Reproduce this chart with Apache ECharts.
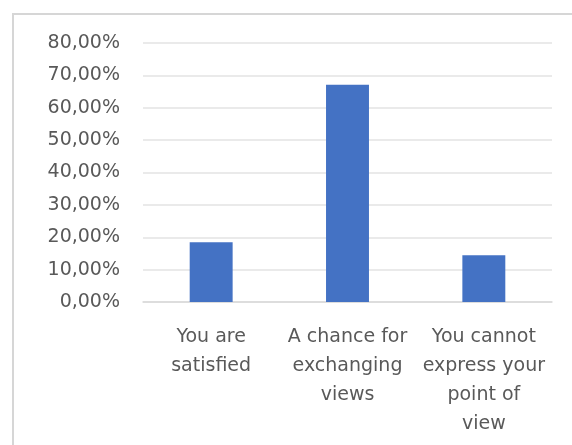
<!DOCTYPE html>
<html>
<head>
<meta charset="utf-8">
<script src="https://cdn.jsdelivr.net/npm/echarts@6/dist/echarts.min.js"></script>
<style>
  html, body { margin: 0; padding: 0; background: #fff; }
  #frame {
    position: absolute; left: 12px; top: 13px; width: 600px; height: 500px;
    border-left: 2px solid #d6d6d6; border-top: 2px solid #d6d6d6;
  }
  #chart { position: absolute; left: 0; top: 0; width: 572px; height: 445px; }
</style>
</head>
<body>
<div id="frame"></div>
<div id="chart"></div>
<script>
const categories = [
  "You are\nsatisfied",
  "A chance for\nexchanging\nviews",
  "You cannot\nexpress your\npoint of\nview",
];
const values = [18.42, 67.11, 14.47];
const yTicks = { min: 0, max: 80, interval: 10 };

const myCharts = echarts.init(document.getElementById("chart"));

const options = {
  animation: false,
  grid: {
    top: 43,
    left: 143,
    right: 20,
    bottom: 143,
  },
  xAxis: {
    type: "category",
    data: categories,
    axisTick: { show: false },
    axisLine: {
      show: true,
      lineStyle: { color: "#d9d9d9", width: 1.5 },
    },
    axisLabel: {
      interval: 0,
      margin: 21,
      color: "#595959",
      fontFamily: "DejaVu Sans",
      fontSize: 19,
      lineHeight: 29,
    },
  },
  yAxis: {
    type: "value",
    min: yTicks.min,
    max: yTicks.max,
    interval: yTicks.interval,
    axisLine: { show: false },
    axisTick: { show: false },
    axisLabel: {
      margin: 23,
      color: "#595959",
      fontFamily: "DejaVu Sans",
      fontSize: 19,
      formatter: (v) => v.toFixed(2).replace(".", ",") + "%",
    },
    splitLine: {
      show: true,
      lineStyle: { color: "#e3e3e3", width: 1.5 },
    },
  },
  series: [
    {
      type: "bar",
      data: values,
      barWidth: "31.5%",
      itemStyle: { color: "#4472C4" },
    },
  ],
};
myCharts.setOption(options, true);
</script>
</body>
</html>
